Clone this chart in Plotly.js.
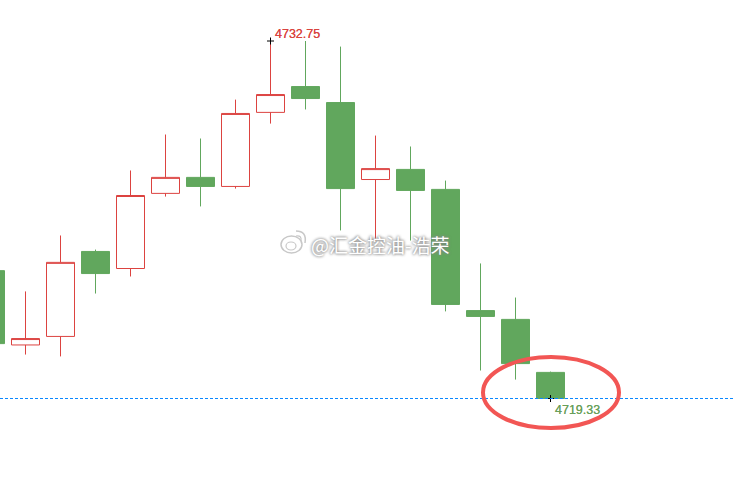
<!DOCTYPE html>
<html><head><meta charset="utf-8">
<script src="https://cdn.plot.ly/plotly-3.0.1.min.js"></script>
<style>html,body{margin:0;padding:0;background:#fff}#c{width:734px;height:485px}</style>
</head><body><div id="c"></div>
<script>
const idx   = [0,1,2,3,4,5,6,7,8,9,10,11,12,13,14,15,16];
const open  = [4724.13,4721.34,4721.66,4724.85,4724.21,4727.03,4727.63,4727.29,4730.07,4731.04,4730.44,4727.55,4727.93,4727.18,4722.63,4722.30,4720.31];
const close = [4721.39,4721.58,4724.44,4724.02,4726.95,4727.63,4727.29,4730.03,4730.74,4730.59,4727.21,4727.96,4727.14,4722.86,4722.41,4720.64,4719.33];
const high  = [4725.20,4723.35,4725.45,4724.92,4727.89,4729.24,4729.09,4730.55,4732.75,4732.75,4732.54,4729.20,4728.79,4727.51,4724.40,4723.12,4720.34];
const low   = [4721.10,4720.98,4720.91,4723.27,4723.91,4726.91,4726.54,4727.21,4729.65,4730.18,4725.64,4725.26,4725.26,4722.60,4720.38,4720.04,4719.33];
const hiIdx = 8, hiVal = 4732.75, hiLabel = "4732.75";
const loIdx = 16, loVal = 4719.33, loLabel = "4719.33";
const watermark = "@汇金控油-浩荣";

const W = 734, H = 485;
const RED = "#dc4340", GREEN = "#61a75d";
const xRange = [0.2714, 21.243];
const yRange = [4719.33 - (485-398.5)/26.64, 4732.75 + 41/26.64];
const px = v => v / W, py = v => 1 - v / H;
const pt = (x,y) => px(x).toFixed(5)+","+py(y).toFixed(5);
const logo = (x0,y0,x1,y1,w) => ({type:"circle",xref:"paper",yref:"paper",x0:px(x0),x1:px(x1),y0:py(y0),y1:py(y1),
  line:{color:"#c8c8c8",width:w},fillcolor:"rgba(255,255,255,0.85)",layer:"above"});
const arc = (a,b,c,w) => ({type:"path",xref:"paper",yref:"paper",path:"M"+pt(a[0],a[1])+" Q"+pt(b[0],b[1])+" "+pt(c[0],c[1]),
  line:{color:"#c8c8c8",width:w},layer:"above"});

const traces = [
 {type:"candlestick",x:idx,open:open,high:high,low:low,close:close,whiskerwidth:0,
  increasing:{line:{color:RED,width:1},fillcolor:"#ffffff"},
  decreasing:{line:{color:GREEN,width:1},fillcolor:GREEN},showlegend:false,hoverinfo:"skip"},
 {type:"scatter",mode:"markers",x:[hiIdx,loIdx],y:[hiVal,loVal],
  marker:{symbol:"cross-thin",size:5,line:{color:"#000",width:1}},showlegend:false,hoverinfo:"skip"}
];
const layout = {
 width:W,height:H,margin:{l:0,r:0,t:0,b:0},paper_bgcolor:"#fff",plot_bgcolor:"#fff",showlegend:false,boxgap:0.2,boxgroupgap:0,
 xaxis:{range:xRange,visible:false,fixedrange:true,rangeslider:{visible:false}},
 yaxis:{range:yRange,visible:false,fixedrange:true},
 shapes:[
  {type:"line",xref:"paper",x0:0,x1:1,yref:"y",y0:loVal,y1:loVal,line:{color:"#0a88ff",width:1,dash:"3px,2px"},layer:"above"},
  {type:"circle",xref:"paper",yref:"paper",x0:px(483),x1:px(619),y0:py(357),y1:py(428),line:{color:"#f25654",width:4},layer:"above"},
  logo(281,236,302,253,1.5),
  logo(286,242,296,250,1.2),
  arc([296,231],[307,231],[305,243],1.5),
  arc([296,236],[302,235],[301,241],1.2)
 ],
 annotations:[
  {x:hiIdx,y:hiVal,xref:"x",yref:"y",text:hiLabel,showarrow:false,xanchor:"left",yanchor:"bottom",xshift:2,yshift:-2,
   font:{family:"Liberation Sans, Arial, sans-serif",size:12.5,color:"#d9443f",shadow:"0 0 0.6px #d9443f"}},
  {x:loIdx,y:loVal,xref:"x",yref:"y",text:loLabel,showarrow:false,xanchor:"left",yanchor:"top",xshift:2,yshift:-2,
   font:{family:"Liberation Sans, Arial, sans-serif",size:12.5,color:"#6a9f5a",shadow:"0 0 0.6px #6a9f5a"}},
  {xref:"paper",yref:"paper",x:px(380),y:py(244),text:watermark,showarrow:false,xanchor:"center",yanchor:"middle",
   font:{family:"Noto Sans CJK SC, sans-serif",size:19,color:"#ffffff",shadow:"0 0 3px #777, 0 0 3px #999"}}
 ]
};
Plotly.newPlot("c",traces,layout,{staticPlot:true,displayModeBar:false});
</script></body></html>
